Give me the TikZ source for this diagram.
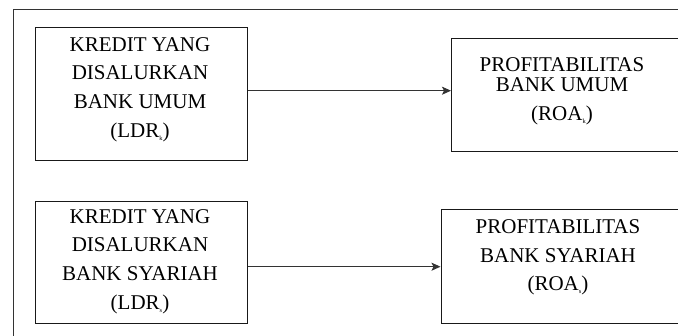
\documentclass[tikz,border=0pt]{standalone}
\usepackage{fontspec}
\setmainfont{Liberation Serif}
\usetikzlibrary{arrows.meta}
\newcommand{\subsc}[1]{\raisebox{-3pt}{\fontsize{6.5}{6.5}\selectfont #1}}
\tikzset{
  box/.style={draw=black!90, line width=1.1pt, rectangle, inner sep=0pt, anchor=north west},
  txt/.style={align=center, font=\fontsize{21}{28.7}\selectfont, inner sep=0pt, text=black},
  conn/.style={draw=black!80, line width=1pt, -{Stealth[length=9pt,width=8pt,inset=2pt]}},
  frame/.style={draw=black!80, line width=1pt}
}
\begin{document}
\begin{tikzpicture}[x=1pt,y=-1pt]
\useasboundingbox (0,0) rectangle (678,335);
\clip (0,0) rectangle (678,335);
\fill[white] (0,0) rectangle (678,335);
% outer frame
\coordinate (fr1) at (700,9.5);
\coordinate (fr2) at (13,9.5);
\coordinate (fr3) at (13,345);
\draw[frame] (fr1) -- (fr2) -- (fr3);
% boxes
\node[box, minimum width=212pt, minimum height=132.5pt] (b1) at (35,27) {};
\node[box, minimum width=260pt, minimum height=113pt] (b2) at (451,37.5) {};
\node[box, minimum width=212pt, minimum height=121.5pt] (b3) at (35,201) {};
\node[box, minimum width=260pt, minimum height=114pt] (b4) at (440.5,209) {};
% texts
\node[txt] (t1) at (140,89.5) {KREDIT YANG\\DISALURKAN\\BANK UMUM\\(LDR\subsc{k})};
\node[txt] (t2) at (562,91.5) {PROFITABILITAS\\[-8.5pt]BANK UMUM\\(ROA\subsc{k})};
\node[txt] (t3) at (140,261.5) {KREDIT YANG\\DISALURKAN\\BANK SYARIAH\\(LDR\subsc{s})};
\node[txt] (t4) at (558,257.5) {PROFITABILITAS\\BANK SYARIAH\\(ROA\subsc{s})};
% connectors
\draw[conn] (b1.east |- 0,90.7) -- (b2.west |- 0,90.7);
\draw[conn] (b3.east |- 0,266.7) -- (b4.west |- 0,266.7);
\end{tikzpicture}
\end{document}
